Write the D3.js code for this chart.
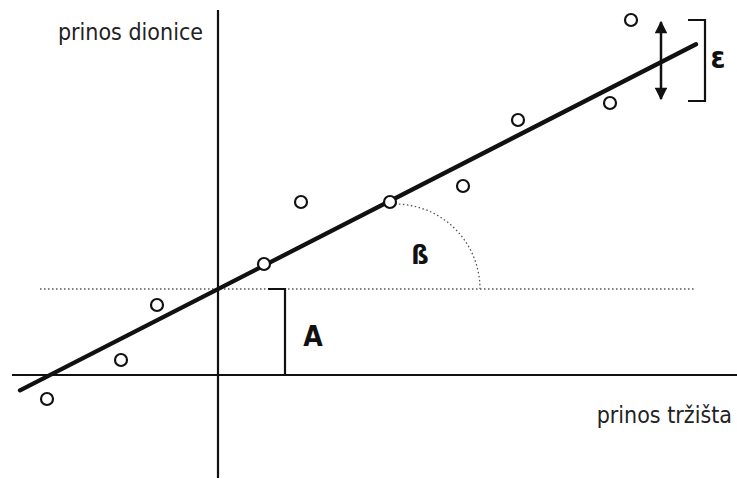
<!DOCTYPE html>
<html>
<head>
<meta charset="utf-8">
<script src="https://cdn.jsdelivr.net/npm/d3@7"></script>
<style>
  body { margin: 0; background: #fff; }
  .lbl { font-family: "Liberation Sans Narrow", "DejaVu Sans Condensed", sans-serif; font-stretch: condensed; fill: #222; }
  .sym { font-family: "Liberation Sans Narrow", "DejaVu Sans Condensed", sans-serif; font-stretch: condensed; font-weight: bold; fill: #111; }
</style>
</head>
<body>
<div id="chart"></div>
<script>
// market return (x) vs stock return (y), arbitrary units
var marketReturn = [-1.71, -0.97, -0.61, 0.46, 0.83, 1.72, 2.45, 3.00, 3.92, 4.13];
var stockReturn  = [-0.24,  0.15,  0.70, 1.11, 1.73, 1.73, 1.89, 2.55, 2.72, 3.55];
var alpha = 0.86;   // A
var beta = 0.512;   // ß
var lineRange = [-1.98, 4.78];
var axisLabels = {x: "prinos tržišta", y: "prinos dionice"};
var symbols = {a: "A", b: "ß", e: "ε"};

var width = 737, height = 479;

var svg = d3.select("#chart").append("svg")
        .attr("width", width).attr("height", height);

var x = d3.scaleLinear().domain([-2.18, 5.19]).range([0, width]);
var y = d3.scaleLinear().domain([-1.04, 3.75]).range([height, 0]);

var defs = svg.append("defs");
defs.append("marker").attr("id", "head")
        .attr("viewBox", "0 0 10 10").attr("refX", 9).attr("refY", 5)
        .attr("markerWidth", 6.4).attr("markerHeight", 5)
        .attr("markerUnits", "strokeWidth")
        .attr("orient", "auto-start-reverse")
        .append("path").attr("d", "M0,0 L10,5 L0,10 Z").attr("fill", "#111");

// axes
svg.append("line")
        .attr("x1", x(-2.06)).attr("x2", x(5.19))
        .attr("y1", y(0)).attr("y2", y(0))
        .attr("stroke", "#111").attr("stroke-width", 2.2);
svg.append("line")
        .attr("x1", x(0)).attr("x2", x(0))
        .attr("y1", y(-1.03)).attr("y2", y(3.65))
        .attr("stroke", "#111").attr("stroke-width", 2.2);

// dotted line at alpha
svg.append("line")
        .attr("x1", x(-1.78)).attr("x2", x(4.77))
        .attr("y1", y(alpha)).attr("y2", y(alpha))
        .attr("stroke", "#555").attr("stroke-width", 1.3)
        .attr("stroke-dasharray", "1.5,2.5");

// A bracket
svg.append("path")
        .attr("d", "M" + x(0.50) + "," + y(alpha) + "H" + x(0.67) + "V" + y(0) + "H" + x(0.50))
        .attr("fill", "none").attr("stroke", "#111").attr("stroke-width", 2.2);
svg.append("text").attr("class", "sym")
        .attr("x", x(0.95)).attr("y", y(0.37))
        .attr("text-anchor", "middle").attr("dominant-baseline", "middle")
        .style("font-size", "28px").text(symbols.a);

// beta arc (quarter, dotted)
var cx = x(1.77), cy = y(alpha), r = x(2.62) - x(1.77);
svg.append("path")
        .attr("d", "M" + cx + "," + (cy - r) + " A" + r + "," + r + " 0 0 1 " + (cx + r) + "," + cy)
        .attr("fill", "none").attr("stroke", "#555").attr("stroke-width", 1.3)
        .attr("stroke-dasharray", "1.5,2.5");
svg.append("text").attr("class", "sym")
        .attr("x", x(2.02)).attr("y", y(1.19))
        .attr("text-anchor", "middle").attr("dominant-baseline", "middle")
        .style("font-size", "27px").text(symbols.b);

// regression line
var line = d3.line()
        .x(function (d) { return x(d); })
        .y(function (d) { return y(alpha + beta * d); });
svg.append("path")
        .datum(lineRange)
        .attr("d", line)
        .attr("stroke", "#111").attr("stroke-width", 4.3)
        .attr("stroke-linecap", "round").attr("fill", "none");

// points
svg.selectAll("circle.pt")
        .data(marketReturn)
        .enter().append("circle")
        .attr("class", "pt")
        .attr("cx", function (d) { return x(d); })
        .attr("cy", function (d, i) { return y(stockReturn[i]); })
        .attr("r", 6)
        .attr("fill", "#fff").attr("stroke", "#111").attr("stroke-width", 2.2);

// epsilon double arrow
svg.append("line")
        .attr("x1", x(4.43)).attr("x2", x(4.43))
        .attr("y1", y(3.53)).attr("y2", y(2.76))
        .attr("stroke", "#111").attr("stroke-width", 2.5)
        .attr("marker-start", "url(#head)").attr("marker-end", "url(#head)");

// epsilon bracket
svg.append("path")
        .attr("d", "M" + x(4.70) + "," + y(3.55) + "H" + x(4.87) + "V" + y(2.74) + "H" + x(4.70))
        .attr("fill", "none").attr("stroke", "#111").attr("stroke-width", 2.2);
svg.append("text").attr("class", "sym")
        .attr("x", x(5.00)).attr("y", y(3.16))
        .attr("text-anchor", "middle").attr("dominant-baseline", "middle")
        .style("font-size", "30px").text(symbols.e);

// axis labels
svg.append("text").attr("class", "lbl")
        .attr("x", x(-0.15)).attr("y", y(3.35))
        .attr("text-anchor", "end")
        .style("font-size", "23px").text(axisLabels.y);
svg.append("text").attr("class", "lbl")
        .attr("x", x(5.14)).attr("y", y(-0.48))
        .attr("text-anchor", "end")
        .style("font-size", "23px").text(axisLabels.x);
</script>
</body>
</html>
